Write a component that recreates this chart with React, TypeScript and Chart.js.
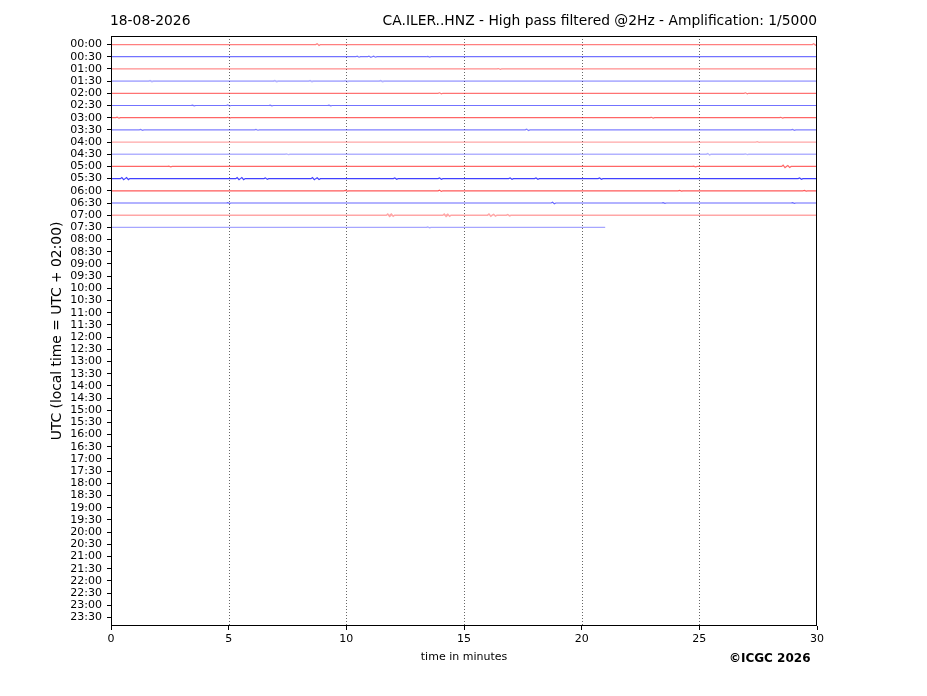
import React, { useEffect, useRef } from "react";
import { Chart, registerables } from "chart.js";

Chart.register(...registerables);

const dateLabel = "18-08-2026";
const titleText = "CA.ILER..HNZ - High pass filtered @2Hz - Amplification: 1/5000";
const yAxisTitle = "UTC (local time = UTC + 02:00)";
const xAxisTitle = "time in minutes";
const creditText = "©ICGC 2026";

const timeLabels = [
  "00:00", "00:30", "01:00", "01:30", "02:00", "02:30", "03:00", "03:30",
  "04:00", "04:30", "05:00", "05:30", "06:00", "06:30", "07:00", "07:30",
  "08:00", "08:30", "09:00", "09:30", "10:00", "10:30", "11:00", "11:30",
  "12:00", "12:30", "13:00", "13:30", "14:00", "14:30", "15:00", "15:30",
  "16:00", "16:30", "17:00", "17:30", "18:00", "18:30", "19:00", "19:30",
  "20:00", "20:30", "21:00", "21:30", "22:00", "22:30", "23:00", "23:30",
];

const xTicks = [0, 5, 10, 15, 20, 25, 30];
const gridMinutes = [5, 10, 15, 20, 25];

// one entry per recorded row (00:00 .. 07:30)
const rowColors = [
  "255,0,0", "0,0,255", "255,0,0", "0,0,255", "255,0,0", "0,0,255", "255,0,0", "0,0,255",
  "255,0,0", "0,0,255", "255,0,0", "0,0,255", "255,0,0", "0,0,255", "255,0,0", "0,0,255",
];
const rowAlpha = [0.5, 0.55, 0.45, 0.3, 0.55, 0.55, 0.6, 0.5, 0.35, 0.3, 0.6, 0.75, 0.65, 0.6, 0.35, 0.35];
const rowWidth = [1.2, 1.2, 1.2, 1.8, 1.2, 1.2, 1.2, 1.2, 1.3, 1.4, 1.2, 1.2, 1.2, 1.2, 1.5, 1.3];
const rowEnd = [30, 30, 30, 30, 30, 30, 30, 30, 30, 30, 30, 30, 30, 30, 30, 21];

// notable wiggles per row: [minute, amplitude in row units]
const rowEvents: number[][][] = [
  [[8.8, 0.07], [29.9, 0.06]],
  [[10.5, 0.04], [11.0, 0.05], [11.2, 0.04], [13.5, 0.03]],
  [[16.5, 0.03]],
  [[1.7, 0.04], [7.0, 0.04], [8.5, 0.03], [10.0, 0.04], [11.5, 0.04]],
  [[14.0, 0.04], [27.0, 0.04]],
  [[3.5, 0.03], [5.0, 0.04], [6.8, 0.03], [9.3, 0.03]],
  [[0.3, 0.04], [5.0, 0.03], [23.0, 0.03], [28.5, 0.03]],
  [[1.3, 0.04], [6.2, 0.03], [17.7, 0.06], [29.0, 0.04]],
  [[25.0, 0.03], [27.5, 0.03]],
  [[7.5, 0.03], [20.0, 0.03], [25.4, 0.06], [27.0, 0.03]],
  [[2.5, 0.03], [24.8, 0.03], [28.6, 0.1], [28.8, 0.08]],
  [[0.5, 0.09], [0.7, 0.08], [5.4, 0.08], [5.6, 0.09], [6.6, 0.06], [8.6, 0.09], [8.8, 0.07],
   [12.1, 0.05], [14.0, 0.05], [17.0, 0.05], [18.1, 0.05], [20.8, 0.05], [29.3, 0.05]],
  [[10.0, 0.03], [14.0, 0.05], [24.2, 0.03], [29.5, 0.03]],
  [[5.0, 0.03], [18.8, 0.06], [23.5, 0.03], [29.0, 0.03]],
  [[11.8, 0.1], [11.95, 0.09], [14.2, 0.1], [14.35, 0.08], [16.1, 0.09], [16.3, 0.07], [16.9, 0.05]],
  [[13.5, 0.03]],
];

const FONT = "'DejaVu Sans', sans-serif";

function buildTrace(row: number) {
  const pts: { x: number; y: number }[] = [{ x: 0, y: row }];
  const evs = rowEvents[row].slice().sort((a, b) => a[0] - b[0]);
  for (const [t, a] of evs) {
    pts.push({ x: t - 0.1, y: row });
    pts.push({ x: t - 0.04, y: row - a });
    pts.push({ x: t + 0.04, y: row + a });
    pts.push({ x: t + 0.1, y: row });
  }
  pts.push({ x: rowEnd[row], y: row });
  return pts;
}

const decorPlugin = {
  id: "decor",
  beforeDatasetsDraw(chart: any) {
    const { ctx, chartArea, scales } = chart;
    ctx.save();
    ctx.strokeStyle = "rgba(0,0,0,0.75)";
    ctx.lineWidth = 0.8;
    ctx.setLineDash([1, 2]);
    for (const m of gridMinutes) {
      const x = Math.round(scales.x.getPixelForValue(m)) + 0.5;
      ctx.beginPath();
      ctx.moveTo(x, chartArea.top);
      ctx.lineTo(x, chartArea.bottom);
      ctx.stroke();
    }
    ctx.restore();
  },
  afterDraw(chart: any) {
    const { ctx, chartArea } = chart;
    ctx.save();
    ctx.strokeStyle = "#000";
    ctx.lineWidth = 1;
    ctx.setLineDash([]);
    ctx.strokeRect(chartArea.left + 0.5, chartArea.top + 0.5, chartArea.right - chartArea.left - 1, chartArea.bottom - chartArea.top - 1);

    ctx.fillStyle = "#000";
    ctx.font = `13.85px ${FONT}`;
    ctx.textBaseline = "alphabetic";
    ctx.textAlign = "left";
    ctx.fillText(dateLabel, chartArea.left - 1, 25);
    ctx.textAlign = "right";
    ctx.fillText(titleText, chartArea.right, 25);

    ctx.save();
    ctx.translate(57, (chartArea.top + chartArea.bottom) / 2);
    ctx.rotate(-Math.PI / 2);
    ctx.textAlign = "center";
    ctx.textBaseline = "middle";
    ctx.fillText(yAxisTitle, 0, 0);
    ctx.restore();

    ctx.font = `11px ${FONT}`;
    ctx.textAlign = "center";
    ctx.textBaseline = "middle";
    ctx.fillText(xAxisTitle, (chartArea.left + chartArea.right) / 2, 657);

    ctx.font = `bold 12px ${FONT}`;
    ctx.textAlign = "left";
    ctx.fillText(creditText, 729, 659);
    ctx.restore();
  },
};

export default function App() {
  const ref = useRef<HTMLCanvasElement>(null);
  useEffect(() => {
    if (!ref.current) return;
    const datasets = rowColors.map((c, i) => ({
      label: timeLabels[i],
      data: buildTrace(i),
      borderColor: `rgba(${c},${rowAlpha[i]})`,
      borderWidth: rowWidth[i],
      pointRadius: 0,
      tension: 0,
      fill: false,
    }));
    const chart = new Chart(ref.current, {
      type: "line",
      data: { datasets },
      options: {
        animation: false,
        responsive: false,
        layout: { padding: { top: 36, right: 110, bottom: 0, left: 0 } },
        plugins: { legend: { display: false }, tooltip: { enabled: false }, title: { display: false } },
        scales: {
          x: {
            type: "linear",
            min: 0,
            max: 30,
            afterBuildTicks: (s: any) => { s.ticks = xTicks.map((v) => ({ value: v })); },
            afterFit: (s: any) => { s.height = 70; },
            ticks: { color: "#000", font: { family: FONT, size: 11 }, padding: 3, maxRotation: 0, autoSkip: false },
            grid: { display: true, drawOnChartArea: false, tickLength: 4, tickColor: "#000", tickWidth: 1 },
            border: { display: false },
          },
          y: {
            type: "linear",
            reverse: true,
            min: -0.7,
            max: 47.7,
            afterBuildTicks: (s: any) => { s.ticks = timeLabels.map((_, i) => ({ value: i })); },
            afterFit: (s: any) => { s.width = 111; },
            ticks: {
              color: "#000",
              font: { family: FONT, size: 11 },
              padding: 5,
              autoSkip: false,
              callback: (v: any) => timeLabels[Math.round(Number(v))] ?? "",
            },
            grid: { display: true, drawOnChartArea: false, tickLength: 4, tickColor: "#000", tickWidth: 1 },
            border: { display: false },
          },
        },
      },
      plugins: [decorPlugin],
    } as any);
    return () => chart.destroy();
  }, []);
  return (
    <div style={{ position: "absolute", left: 0, top: 0, width: 927, height: 696, background: "#fff" }}>
      <canvas ref={ref} width={927} height={696} style={{ display: "block", width: 927, height: 696 }} />
    </div>
  );
}
